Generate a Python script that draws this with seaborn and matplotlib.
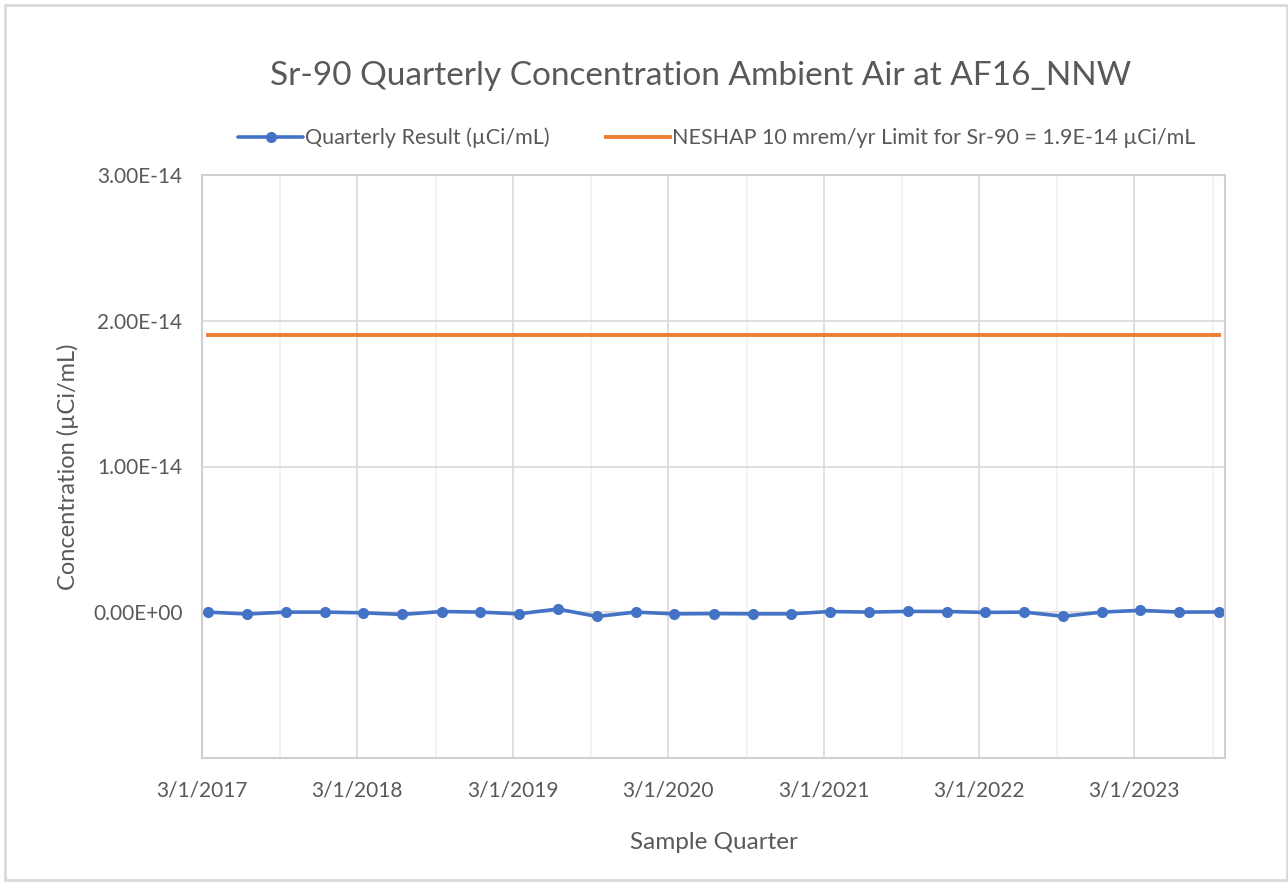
import pandas as pd
import seaborn as sns
import matplotlib.pyplot as plt
import matplotlib.dates as mdates
from matplotlib.ticker import FuncFormatter, MultipleLocator
from matplotlib.patches import Rectangle

# data (uCi/mL)
quarters = [
    "2017-03-15", "2017-06-15", "2017-09-15", "2017-12-15",
    "2018-03-15", "2018-06-15", "2018-09-15", "2018-12-15",
    "2019-03-15", "2019-06-15", "2019-09-15", "2019-12-15",
    "2020-03-15", "2020-06-15", "2020-09-15", "2020-12-15",
    "2021-03-15", "2021-06-15", "2021-09-15", "2021-12-15",
    "2022-03-15", "2022-06-15", "2022-09-15", "2022-12-15",
    "2023-03-15", "2023-06-15", "2023-09-15",
]
results = [
    1.0e-17, -1.2e-16, 1.0e-17, 1.0e-17,
    -4.0e-17, -1.5e-16, 5.0e-17, 1.0e-17,
    -1.1e-16, 2.2e-16, -2.9e-16, 1.0e-17,
    -1.1e-16, -9.0e-17, -1.1e-16, -1.1e-16,
    5.0e-17, 1.0e-17, 6.0e-17, 5.0e-17,
    -1.0e-17, 1.0e-17, -2.8e-16, 1.0e-17,
    1.3e-16, 1.0e-17, 2.0e-17,
]
limit_value = 1.9e-14

result_label = "Quarterly Result (µCi/mL)"
limit_label = "NESHAP 10 mrem/yr Limit for Sr-90 = 1.9E-14 µCi/mL"

df = pd.DataFrame({"date": pd.to_datetime(quarters), "result": results})
df["limit"] = limit_value

sns.set_style("white")
plt.rcParams["font.family"] = ["Lato", "DejaVu Sans"]
text_color = "#595959"

fig = plt.figure(figsize=(12.88, 8.82), dpi=100)
ax = fig.add_axes([202 / 1288, 1 - 758 / 882, (1225 - 202) / 1288, (758 - 175) / 882])

sns.lineplot(data=df, x="date", y="limit", ax=ax, color="#ED7D31",
             linewidth=2.8, label=limit_label, solid_capstyle="projecting")
sns.lineplot(data=df, x="date", y="result", ax=ax, color="#4472C4",
             linewidth=2.6, marker="o", markersize=8, markeredgewidth=0,
             label=result_label)

ax.set_xlim(pd.Timestamp("2017-03-01"), pd.Timestamp("2023-09-30"))
ax.set_ylim(-1e-14, 3e-14)

ax.xaxis.set_major_locator(mdates.MonthLocator(bymonth=3, bymonthday=1))
ax.xaxis.set_minor_locator(mdates.MonthLocator(bymonth=9, bymonthday=1))
ax.xaxis.set_major_formatter(FuncFormatter(
    lambda v, p: "{d.month}/{d.day}/{d.year}".format(d=mdates.num2date(v))))
ax.yaxis.set_major_locator(MultipleLocator(1e-14))
ax.yaxis.set_major_formatter(FuncFormatter(
    lambda v, p: "" if v < -1e-15 else f"{v:.2E}"))
ax.yaxis.get_offset_text().set_visible(False)

ax.grid(which="major", axis="both", color="#D9D9D9", linewidth=1.2)
ax.grid(which="minor", axis="x", color="#F0F0F0", linewidth=1.2)
ax.set_axisbelow(True)
for s in ax.spines.values():
    s.set_color("#D0D0D0")
    s.set_linewidth(1.5)

ax.tick_params(axis="x", which="major", length=10, width=1.2, color="#D0D0D0",
               labelsize=15, labelcolor=text_color, pad=6)
ax.tick_params(axis="x", which="minor", length=0)
ax.tick_params(axis="y", length=0, labelsize=15, labelcolor=text_color, pad=14)

ax.set_xlabel("Sample Quarter", fontsize=17.5, color=text_color, labelpad=23)
ax.set_ylabel("Concentration (µCi/mL)", fontsize=17, color=text_color, labelpad=10)

fig.text(0.5443, 1 - 76 / 882, "Sr-90 Quarterly Concentration Ambient Air at AF16_NNW",
         ha="center", va="center", fontsize=24, color=text_color)

handles, labels = ax.get_legend_handles_labels()
order = [labels.index(result_label), labels.index(limit_label)]
ax.legend([handles[i] for i in order], [labels[i] for i in order],
          loc="center", bbox_to_anchor=(717 / 1288, 1 - 138 / 882),
          bbox_transform=fig.transFigure, ncol=2, frameon=False,
          fontsize=15.5, labelcolor=text_color, handlelength=3.0,
          handletextpad=0.1, columnspacing=2.6)

fig.patches.append(Rectangle((5 / 1288, 2 / 882), 1282 / 1288, 875 / 882,
                             transform=fig.transFigure, fill=False,
                             edgecolor="#D9D9D9", linewidth=2))

fig.savefig("out.png", dpi=100)
